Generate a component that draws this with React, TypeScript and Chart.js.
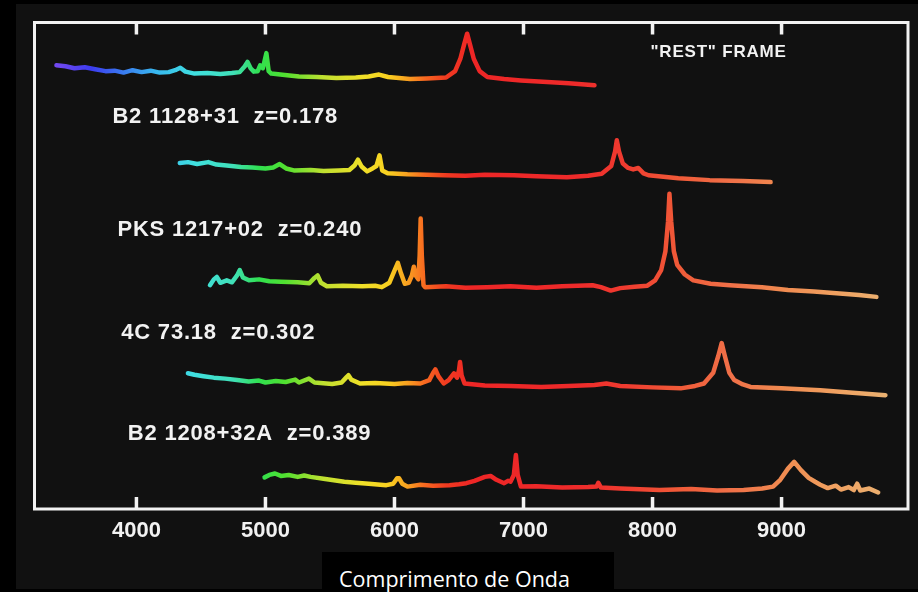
import React, { useEffect, useRef } from "react";
import { Chart, registerables } from "chart.js";

Chart.register(...registerables);

// ---------- data ----------
const xTicks = [4000, 5000, 6000, 7000, 8000, 9000];
const spectrumNames = [
  "B2 1128+31  z=0.178",
  "PKS 1217+02  z=0.240",
  "4C 73.18  z=0.302",
  "B2 1208+32A  z=0.389",
];
const restFrameText = "\"REST\" FRAME";
const axisTitle = "Comprimento de Onda";

// Rest frame spectrum (wavelength in Å, offset flux in arbitrary units)
const wave0 = [3380, 3450, 3520, 3600, 3680, 3760, 3830, 3900, 3970, 4040, 4110, 4180, 4250, 4300, 4340, 4380, 4450, 4550, 4650, 4740, 4800, 4840, 4861, 4885, 4910, 4940, 4959, 4980, 5007, 5025, 5045, 5150, 5260, 5400, 5550, 5700, 5800, 5880, 5950, 6120, 6250, 6400, 6470, 6510, 6540, 6563, 6585, 6615, 6660, 6720, 6850, 6980, 7150, 7350, 7550];
const flux0 = [91.2, 91.0, 90.6, 90.8, 90.4, 90.0, 90.1, 89.7, 90.2, 89.8, 90.1, 89.7, 89.8, 90.2, 90.7, 89.9, 89.5, 89.6, 89.4, 89.6, 89.8, 91.0, 91.9, 90.6, 89.9, 90.0, 91.2, 90.6, 93.7, 90.0, 89.5, 89.2, 88.9, 88.8, 88.6, 88.7, 88.9, 89.3, 88.8, 88.4, 88.5, 88.7, 90.0, 92.5, 95.5, 97.7, 95.5, 92.5, 90.0, 88.8, 88.4, 88.1, 87.8, 87.5, 87.1];

// B2 1128+31 z=0.178
const wave1 = [4336, 4400, 4470, 4557, 4620, 4700, 4810, 4900, 5000, 5060, 5110, 5160, 5220, 5350, 5450, 5568, 5650, 5690, 5717, 5745, 5788, 5830, 5860, 5884, 5905, 5947, 6100, 6250, 6389, 6550, 6700, 6926, 7100, 7336, 7500, 7606, 7680, 7710, 7723, 7740, 7770, 7811, 7850, 7890, 7930, 7969, 8200, 8443, 8700, 8915];
const flux1 = [71.1, 71.3, 70.9, 71.3, 70.8, 70.6, 70.3, 70.2, 70.0, 70.2, 70.9, 70.0, 69.6, 69.7, 69.5, 69.6, 69.7, 70.6, 71.8, 70.4, 69.4, 70.0, 70.5, 72.7, 69.6, 69.0, 68.8, 68.7, 68.6, 68.5, 68.7, 68.6, 68.4, 68.2, 68.5, 68.9, 70.5, 73.5, 75.8, 73.5, 71.0, 70.1, 69.8, 70.1, 69.0, 68.6, 68.0, 67.6, 67.4, 67.2];

// PKS 1217+02 z=0.240
const wave2 = [4570, 4600, 4623, 4650, 4700, 4740, 4780, 4801, 4825, 4872, 4950, 5030, 5120, 5250, 5340, 5380, 5404, 5430, 5476, 5600, 5750, 5850, 5902, 5960, 6000, 6026, 6050, 6080, 6110, 6135, 6150, 6165, 6185, 6195, 6203, 6212, 6225, 6238, 6400, 6550, 6717, 6900, 7100, 7300, 7535, 7600, 7676, 7750, 7860, 7960, 8020, 8067, 8100, 8120, 8131, 8145, 8165, 8191, 8250, 8316, 8450, 8600, 8848, 9050, 9250, 9450, 9600, 9735];
const flux2 = [46.0, 47.2, 47.7, 46.5, 47.0, 46.6, 48.0, 49.1, 47.6, 47.0, 47.2, 46.8, 46.7, 46.6, 46.4, 47.5, 48.0, 46.5, 45.8, 45.9, 45.8, 45.9, 45.6, 46.5, 49.0, 50.6, 48.5, 46.3, 46.5, 48.0, 49.8, 48.0, 47.2, 52.0, 59.7, 52.0, 46.0, 45.6, 45.8, 45.5, 45.6, 45.8, 45.5, 45.8, 46.0, 45.6, 44.9, 45.4, 45.7, 45.9, 47.0, 49.1, 53.0, 59.0, 64.8, 59.0, 53.0, 50.2, 48.2, 47.0, 46.3, 46.0, 45.6, 45.0, 44.7, 44.3, 44.0, 43.6];

// 4C 73.18 z=0.302
const wave3 = [4399, 4450, 4520, 4600, 4688, 4780, 4870, 4950, 5000, 5080, 5156, 5230, 5260, 5337, 5380, 5517, 5590, 5625, 5643, 5665, 5733, 5850, 6000, 6100, 6201, 6270, 6300, 6317, 6340, 6382, 6420, 6461, 6485, 6500, 6508, 6520, 6543, 6700, 6900, 7137, 7350, 7550, 7642, 7750, 8000, 8218, 8330, 8399, 8470, 8510, 8536, 8560, 8595, 8633, 8700, 8760, 9000, 9300, 9550, 9805];
const flux3 = [27.9, 27.6, 27.3, 27.0, 26.8, 26.5, 26.2, 26.4, 26.0, 26.3, 26.1, 26.6, 26.0, 26.8, 26.0, 25.7, 26.0, 27.0, 27.5, 26.6, 25.8, 25.9, 25.7, 25.9, 25.8, 26.5, 28.0, 28.7, 27.3, 25.8, 26.5, 27.9, 27.0, 28.5, 30.2, 27.5, 25.8, 25.4, 25.3, 25.1, 25.3, 25.5, 25.8, 25.3, 25.0, 24.8, 25.3, 25.8, 28.0, 31.5, 34.1, 31.5, 28.0, 26.5, 25.6, 25.1, 24.8, 24.4, 23.9, 23.4];

// B2 1208+32A z=0.389
const wave4 = [4993, 5030, 5074, 5120, 5180, 5250, 5300, 5350, 5450, 5530, 5611, 5700, 5800, 5937, 5990, 6020, 6036, 6060, 6101, 6200, 6300, 6426, 6500, 6557, 6620, 6700, 6745, 6790, 6850, 6880, 6899, 6925, 6941, 6955, 6980, 7100, 7300, 7500, 7566, 7580, 7600, 7750, 8055, 8300, 8500, 8706, 8850, 8934, 8990, 9050, 9098, 9150, 9210, 9260, 9300, 9358, 9420, 9460, 9520, 9560, 9586, 9610, 9680, 9749];
const flux4 = [6.5, 7.0, 7.3, 6.8, 7.0, 6.6, 6.9, 6.6, 6.2, 5.9, 5.6, 5.4, 5.2, 4.9, 5.2, 6.3, 6.3, 5.2, 4.6, 5.0, 4.8, 4.9, 5.1, 5.3, 5.8, 6.6, 6.8, 6.0, 5.3, 5.8, 5.6, 7.0, 11.1, 7.0, 4.6, 4.7, 4.4, 4.5, 4.6, 5.4, 4.4, 4.2, 3.9, 4.1, 3.8, 3.9, 4.2, 4.6, 6.0, 8.3, 9.7, 8.0, 6.4, 5.6, 5.0, 4.3, 4.8, 4.0, 4.5, 3.9, 5.2, 3.8, 4.2, 3.4];

const waves = [wave0, wave1, wave2, wave3, wave4];
const fluxes = [flux0, flux1, flux2, flux3, flux4];

// ---------- styles ----------
const X_MIN = 3210;
const X_MAX = 9980;
const colorWaves = [3210, 3400, 3650, 3900, 4150, 4450, 4750, 4950, 5150, 5450, 5750, 5950, 6100, 6230, 6400, 6600, 7400, 7800, 8200, 8600, 9000, 9400, 9980];
const colorHex = ["#7b4cf5", "#7048f0", "#3c3cf0", "#3a7cf0", "#38b8f0", "#40e0e0", "#40e0b8", "#30e050", "#50e030", "#c0e030", "#f0e028", "#f8d020", "#f8a020", "#f86a20", "#f03a20", "#ee2626", "#ee2a2a", "#f03c30", "#f05a38", "#f07048", "#f08a50", "#f0a060", "#e8b878"];

// label anchors in data units (wavelength, offset flux)
const labelAnchors = [
  { w: 3814, v: 80.6 },
  { w: 3853, v: 57.4 },
  { w: 3882, v: 36.1 },
  { w: 3933, v: 15.4 },
];
const restAnchor = { w: 7984, v: 93.8 };

function spectrumGradient(context: any) {
  const chart = context.chart;
  const xs = chart.scales && chart.scales.x;
  if (!chart.chartArea || !xs) return "#ee2626";
  const w0 = colorWaves[0];
  const w1 = colorWaves[colorWaves.length - 1];
  const g = chart.ctx.createLinearGradient(xs.getPixelForValue(w0), 0, xs.getPixelForValue(w1), 0);
  colorWaves.forEach((w, i) => g.addColorStop((w - w0) / (w1 - w0), colorHex[i]));
  return g;
}

const framePlugin = {
  id: "frameAndLabels",
  afterDraw(chart: any) {
    const { ctx, chartArea: a, scales } = chart;
    const xs = scales.x;
    const ys = scales.y;
    ctx.save();
    ctx.strokeStyle = "#f2f2f2";
    ctx.lineWidth = 3;
    ctx.strokeRect(a.left, a.top, a.right - a.left, a.bottom - a.top);
    ctx.lineWidth = 3.5;
    xTicks.forEach((t) => {
      const px = xs.getPixelForValue(t);
      ctx.beginPath();
      ctx.moveTo(px, a.top);
      ctx.lineTo(px, a.top + 12);
      ctx.moveTo(px, a.bottom);
      ctx.lineTo(px, a.bottom - 12);
      ctx.stroke();
    });
    ctx.fillStyle = "#f2f2f2";
    ctx.textBaseline = "middle";
    ctx.textAlign = "left";
    try { (ctx as any).letterSpacing = "0.8px"; } catch (e) {}
    ctx.font = "bold 22px 'Liberation Sans', Arial, sans-serif";
    spectrumNames.forEach((name, i) => {
      const an = labelAnchors[i];
      ctx.fillText(name, xs.getPixelForValue(an.w), ys.getPixelForValue(an.v));
    });
    ctx.font = "bold 17px 'Liberation Sans', Arial, sans-serif";
    ctx.fillText(restFrameText, xs.getPixelForValue(restAnchor.w), ys.getPixelForValue(restAnchor.v));
    ctx.restore();
  },
};

export default function App() {
  const canvasRef = useRef<HTMLCanvasElement | null>(null);

  useEffect(() => {
    const canvas = canvasRef.current;
    if (!canvas) return;
    const datasets = waves.map((w, i) => ({
      label: i === 0 ? "rest frame" : spectrumNames[i - 1],
      data: w.map((x, j) => ({ x, y: fluxes[i][j] })),
      borderColor: spectrumGradient,
      borderWidth: 4.5,
      pointRadius: 0,
      tension: 0,
      fill: false,
      borderCapStyle: "round",
      borderJoinStyle: "round",
    }));
    const chart = new Chart(canvas, {
      type: "line",
      data: { datasets } as any,
      options: {
        animation: false,
        responsive: false,
        maintainAspectRatio: false,
        layout: { padding: { left: 34.5, top: 22.5, right: 10, bottom: 38.6 } },
        plugins: { legend: { display: false }, tooltip: { enabled: false } },
        scales: {
          x: {
            type: "linear",
            min: X_MIN,
            max: X_MAX,
            position: "bottom",
            afterBuildTicks: (s: any) => {
              s.ticks = xTicks.map((v) => ({ value: v }));
            },
            ticks: {
              color: "#f2f2f2",
              font: { family: "'Liberation Sans', Arial, sans-serif", size: 22, weight: "bold" },
              padding: 9,
              maxRotation: 0,
              autoSkip: false,
              includeBounds: false,
              callback: (v: any) => String(v),
            },
            grid: { display: false, drawTicks: false },
            border: { display: false },
          },
          y: { type: "linear", min: 0, max: 100, display: false },
        },
      } as any,
      plugins: [framePlugin],
    });
    return () => chart.destroy();
  }, []);

  return (
    <div style={{ position: "fixed", left: 0, top: 0, width: 918, height: 592, background: "#000", overflow: "hidden" }}>
      <div style={{ position: "absolute", left: 16, top: 4, width: 902, height: 585, background: "#111" }} />
      <canvas ref={canvasRef} width={918} height={592} style={{ position: "absolute", left: 0, top: 0 }} />
      <div style={{ position: "absolute", left: 322, top: 552, width: 292, height: 40, background: "#000" }}>
        <span
          style={{
            position: "absolute",
            left: 17,
            top: 13,
            color: "#fff",
            fontFamily: "'Open Sans', sans-serif",
            fontSize: 21.5,
            lineHeight: "27px",
            whiteSpace: "nowrap",
          }}
        >
          {axisTitle}
        </span>
      </div>
    </div>
  );
}
